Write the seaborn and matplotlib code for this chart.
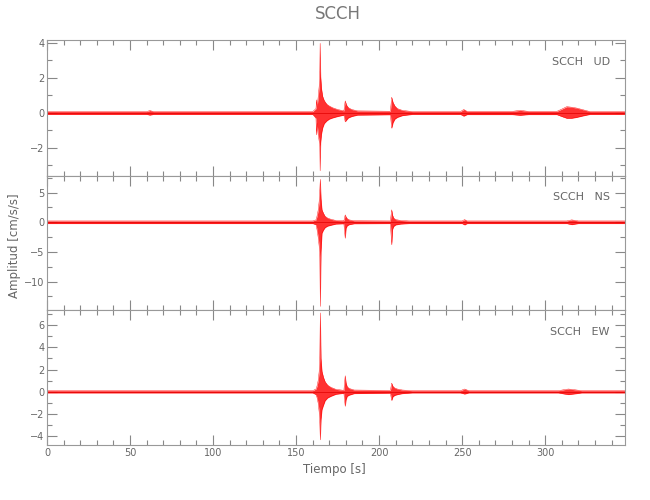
import seaborn as sns
import numpy as np
import matplotlib
matplotlib.use("Agg")
import matplotlib.pyplot as plt
from matplotlib.ticker import MultipleLocator

sns.set_style("ticks")
plt.rcParams['font.family'] = ['DejaVu Sans']

# envelope of each trace (time in s, upper / lower amplitude in cm/s/s)
t_ud = [0, 60, 62, 64, 160, 162.0, 162.3, 162.7, 163.3, 163.9, 164.3, 164.5, 164.8, 165.3, 166.0,
        167, 168.5, 170, 172, 175, 178.8, 179.6, 180.4, 181.5, 183.5, 187, 206.8, 207.6, 208.4, 209.5,
        211, 214, 220, 249, 251, 253, 280, 285, 290, 307, 310, 313, 316, 319, 323, 327, 348]
hi_ud = [0.08, 0.08, 0.14, 0.08, 0.08, 0.25, 0.75, 0.35, 0.9, 1.5, 2.4, 3.98, 2.1, 1.4, 0.95,
         0.7, 0.5, 0.4, 0.3, 0.2, 0.12, 0.69, 0.45, 0.3, 0.2, 0.12, 0.1, 0.9, 0.6, 0.4,
         0.25, 0.15, 0.08, 0.08, 0.2, 0.09, 0.09, 0.15, 0.09, 0.09, 0.22, 0.36, 0.33, 0.28, 0.18, 0.08, 0.08]
lo_ud = [-0.08, -0.08, -0.12, -0.08, -0.08, -0.3, -1.25, -0.6, -1.2, -1.6, -1.9, -3.3, -1.7, -1.2, -0.85,
         -0.6, -0.45, -0.35, -0.28, -0.2, -0.12, -0.5, -0.4, -0.28, -0.2, -0.12, -0.1, -0.87, -0.55, -0.35,
         -0.25, -0.15, -0.08, -0.08, -0.18, -0.09, -0.09, -0.13, -0.09, -0.09, -0.2, -0.3, -0.3, -0.25, -0.16, -0.08, -0.08]

t_ns = [0, 160, 162.0, 162.6, 163.3, 163.9, 164.3, 164.6, 165.0, 165.6, 166.5, 167.5, 169, 171, 174,
        178.8, 179.6, 180.1, 180.8, 182, 185, 206.8, 207.6, 208.1, 208.8, 210, 213, 218, 250, 251.5,
        253, 313, 316, 320, 348]
hi_ns = [0.22, 0.22, 0.4, 1.0, 2.0, 3.5, 5.45, 7.24, 4.0, 2.1, 1.5, 1.0, 0.7, 0.5, 0.3,
         0.25, 1.24, 0.9, 0.6, 0.4, 0.25, 0.22, 2.1, 1.2, 0.7, 0.45, 0.3, 0.22, 0.22, 0.45,
         0.22, 0.22, 0.4, 0.22, 0.22]
lo_ns = [-0.22, -0.22, -0.4, -1.2, -2.5, -4.0, -5.8, -14.2, -5.0, -1.85, -1.3, -0.9, -0.65, -0.5, -0.3,
         -0.25, -2.7, -1.0, -0.6, -0.4, -0.25, -0.22, -3.8, -1.2, -0.7, -0.45, -0.3, -0.22, -0.22, -0.45,
         -0.22, -0.22, -0.4, -0.22, -0.22]

t_ew = [0, 160, 162.0, 162.6, 163.3, 163.9, 164.3, 164.6, 165.0, 165.6, 166.5, 167.5, 169, 171, 174,
        178.8, 179.6, 180.1, 180.8, 182, 185, 206.8, 207.6, 208.3, 209.3, 211, 214, 220, 249, 251.5,
        254, 308, 311, 314, 318, 322, 348]
hi_ew = [0.1, 0.1, 0.25, 0.5, 1.0, 1.8, 3.18, 7.09, 3.0, 1.83, 1.3, 0.9, 0.6, 0.4, 0.22,
         0.13, 1.44, 0.8, 0.45, 0.3, 0.16, 0.12, 0.78, 0.5, 0.35, 0.25, 0.16, 0.1, 0.1, 0.25,
         0.1, 0.1, 0.18, 0.25, 0.18, 0.1, 0.1]
lo_ew = [-0.1, -0.1, -0.25, -0.5, -1.0, -1.8, -2.8, -4.32, -2.5, -1.6, -1.2, -0.8, -0.55, -0.4, -0.22,
         -0.13, -1.3, -0.7, -0.4, -0.3, -0.16, -0.12, -0.78, -0.45, -0.33, -0.25, -0.16, -0.1, -0.1, -0.2,
         -0.1, -0.1, -0.18, -0.25, -0.18, -0.1, -0.1]

components = ['UD', 'NS', 'EW']
ylims = [(-3.6, 4.17), (-14.8, 7.8), (-4.78, 7.35)]
ymajor = [2, 5, 2]
yminor = [1, 2.5, 1]
traces = [(t_ud, hi_ud, lo_ud), (t_ns, hi_ns, lo_ns), (t_ew, hi_ew, lo_ew)]

grey = '#666666'
fig = plt.figure(figsize=(6.5, 5), dpi=100)
boxes = [(0.648, 0.272), (0.38, 0.268), (0.11, 0.27)]
left, width = 0.0723, 0.889

for i, comp in enumerate(components):
    b, h = boxes[i]
    ax = fig.add_axes([left, b, width, h])
    t, hi, lo = traces[i]
    ax.fill_between(t, lo, hi, color='#ff1a1a', lw=0, alpha=0.9)
    sns.lineplot(x=t, y=hi, ax=ax, color='red', lw=0.3)
    sns.lineplot(x=t, y=lo, ax=ax, color='red', lw=0.3)
    ax.axhline(0, color='#e00000', lw=0.5)
    ax.set_xlim(0, 348)
    ax.set_ylim(*ylims[i])
    ax.xaxis.set_major_locator(MultipleLocator(50))
    ax.xaxis.set_minor_locator(MultipleLocator(10))
    ax.yaxis.set_major_locator(MultipleLocator(ymajor[i]))
    ax.yaxis.set_minor_locator(MultipleLocator(yminor[i]))
    ax.tick_params(which='both', direction='in', top=True, right=True, colors='#888888',
                   labelcolor=grey, labelsize=7, pad=2)
    ax.tick_params(which='major', length=7, width=0.8)
    ax.tick_params(which='minor', length=3.5, width=0.8)
    for s in ax.spines.values():
        s.set_color('#999999')
        s.set_linewidth(0.8)
    if i < 2:
        ax.set_xticklabels([])
    ax.text(0.974, 0.84, 'SCCH   ' + comp, transform=ax.transAxes, ha='right', va='center',
            fontsize=8, color=grey)

fig.text(0.52, 0.972, 'SCCH', ha='center', va='center', fontsize=12, color='#777777')
fig.text(0.022, 0.508, 'Amplitud [cm/s/s]', rotation=90, ha='center', va='center',
         fontsize=8.5, color=grey)
fig.text(0.515, 0.06, 'Tiempo [s]', ha='center', va='center', fontsize=8.5, color=grey)

fig.savefig('out.png', dpi=100)
